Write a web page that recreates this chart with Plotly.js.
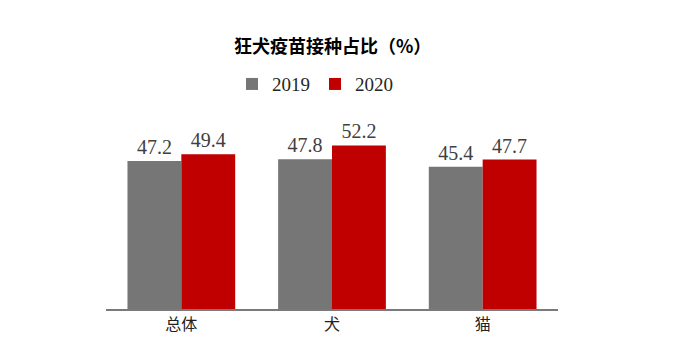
<!DOCTYPE html>
<html>
<head>
<meta charset="utf-8">
<script src="https://cdn.plot.ly/plotly-3.0.1.min.js"></script>
<style>html,body{margin:0;padding:0;background:#fff;}#chart{width:676px;height:361px;}</style>
</head>
<body>
<div id="chart"></div>
<script>
const categories = ["总体", "犬", "猫"];
const values2019 = [47.2, 47.8, 45.4];
const values2020 = [49.4, 52.2, 47.7];
const seriesNames = ["2019", "2020"];

const labelFont = {family: "Liberation Serif, DejaVu Serif, serif", size: 20, color: "#404040"};
const traces = [
  {type: "bar", name: seriesNames[0], x: categories, y: values2019, marker: {color: "#767676"},
   text: values2019.map(v => v.toFixed(1)), textposition: "outside", textfont: labelFont, cliponaxis: false},
  {type: "bar", name: seriesNames[1], x: categories, y: values2020, marker: {color: "#C00000"},
   text: values2020.map(v => v.toFixed(1)), textposition: "outside", textfont: labelFont, cliponaxis: false}
];

const layout = {
  width: 676, height: 361,
  margin: {l: 106, r: 118, t: 121, b: 52},
  paper_bgcolor: "#fff", plot_bgcolor: "#fff",
  barmode: "group", bargap: 0.285, bargroupgap: 0,
  title: {text: "<b>狂犬疫苗接种占比（%）</b>", font: {family: "Noto Sans CJK SC", size: 18, color: "#000"},
          x: 0.492, xref: "container", xanchor: "center", y: 0.87, yref: "container", yanchor: "middle"},
  showlegend: true,
  legend: {orientation: "h", x: 0.466, xref: "container", xanchor: "center", y: 0.767, yref: "container", yanchor: "middle",
           font: {family: "Liberation Serif, DejaVu Serif, serif", size: 19, color: "#262626"}, itemwidth: 30, traceorder: "normal"},
  xaxis: {showline: true, linecolor: "#7a7a7a", linewidth: 2, ticks: "", showgrid: false,
          tickfont: {family: "Noto Sans CJK SC", size: 16, color: "#222"}},
  yaxis: {range: [0, 60], visible: false, showgrid: false, zeroline: false},
  uniformtext: {mode: false}
};

Plotly.newPlot("chart", traces, layout, {displayModeBar: false, staticPlot: true});
</script>
</body>
</html>
